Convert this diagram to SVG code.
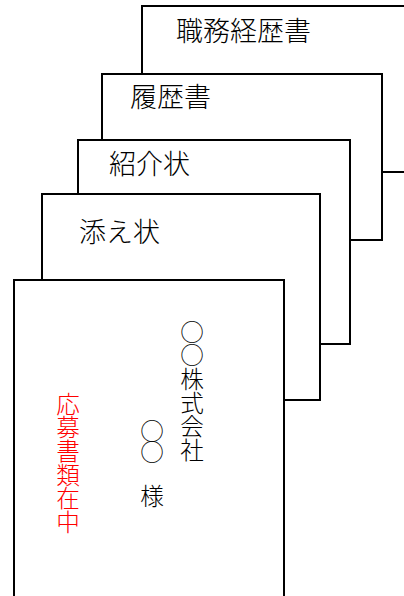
<svg xmlns="http://www.w3.org/2000/svg" width="404" height="596" viewBox="0 0 404 596">
<style>
.doc{fill:#fff;stroke:#000;stroke-width:2}
.t{font-family:"Noto Sans CJK JP","Noto Sans CJK SC",sans-serif;font-weight:300;fill:#000}
.h{font-size:27px}
.v{font-size:23.6px;writing-mode:vertical-rl;text-orientation:upright}
.red{fill:#ff0000}
</style>
<g id="doc-shokumu">
<rect class="doc" x="142" y="6" width="290" height="166"/>
<text class="t h" x="176" y="41">職務経歴書</text>
</g>
<g id="doc-rireki">
<rect class="doc" x="102" y="74" width="280" height="166"/>
<text class="t h" x="130" y="107">履歴書</text>
</g>
<g id="doc-shokai">
<rect class="doc" x="78" y="140" width="272" height="204"/>
<text class="t h" x="109" y="174">紹介状</text>
</g>
<g id="doc-soejo">
<rect class="doc" x="42" y="194" width="278" height="206"/>
<text class="t h" x="79" y="242">添え状</text>
</g>
<g id="envelope">
<rect class="doc" x="14" y="280" width="270" height="340"/>
<text class="t v" x="192" y="320">○○株式会社</text>
<text class="t v" x="152" y="419" letter-spacing="-2">○○　様</text>
<text class="t v red" x="68" y="392">応募書類在中</text>
</g>
</svg>
